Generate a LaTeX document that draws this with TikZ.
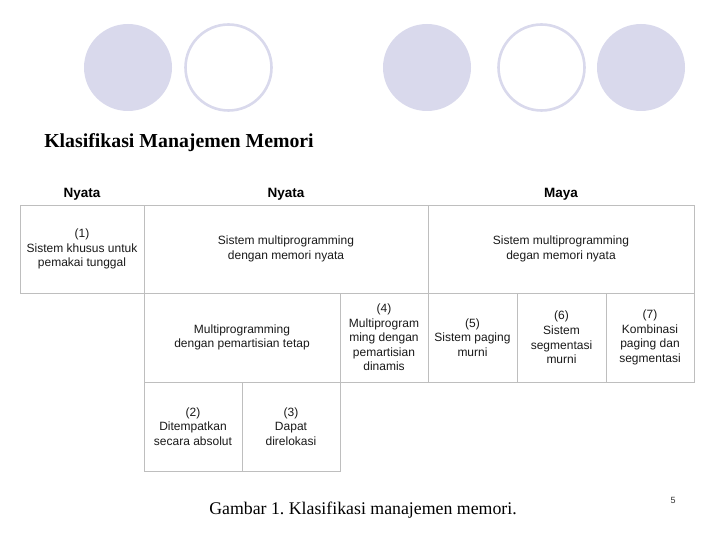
\documentclass[tikz,border=0pt]{standalone}
\usepackage{fontspec}
\setmainfont{Liberation Serif}
\setsansfont{Liberation Sans}
\usetikzlibrary{shapes.geometric}
\definecolor{lav}{RGB}{217,217,236}
\definecolor{gridc}{RGB}{190,190,190}
\begin{document}
\frenchspacing
\begin{tikzpicture}[x=1pt,y=-1pt,
  cell/.style={draw=gridc,line width=0.9pt,rectangle,inner sep=0pt,align=center,
    font=\sffamily\fontsize{12}{14.6}\selectfont,text=black!90},
  hdr/.style={font=\sffamily\bfseries\fontsize{13.5}{16}\selectfont,anchor=base},
  dotf/.style={fill=lav,draw=none},
  doto/.style={draw=lav,line width=2.6pt,fill=white}]
\useasboundingbox (0,0) rectangle (720,540);
% decorative circles
\node[dotf,ellipse,minimum width=88pt,minimum height=87pt] (d1) at (128,67.5) {};
\node[doto,ellipse,minimum width=86pt,minimum height=86pt] (d2) at (228.5,67.5) {};
\node[dotf,ellipse,minimum width=88pt,minimum height=87pt] (d3) at (427,67.5) {};
\node[doto,ellipse,minimum width=86pt,minimum height=86pt] (d4) at (541.5,67.5) {};
\node[dotf,ellipse,minimum width=88pt,minimum height=87pt] (d5) at (641,67.5) {};
% title
\node[font=\bfseries\fontsize{19.8}{22}\selectfont,anchor=base] (title) at (179,148) {Klasifikasi Manajemen Memori};
% headers
\node[hdr] (h1) at (82,197) {Nyata};
\node[hdr] (h2) at (286,197) {Nyata};
\node[hdr] (h3) at (561,197) {Maya};
% row 1
\node[cell,minimum width=124pt,minimum height=88pt] (c1) at (82,249) {(1)\\Sistem khusus untuk\\pemakai tunggal};
\node[cell,minimum width=284pt,minimum height=88pt] (c2) at (286,249) {Sistem multiprogramming\\dengan memori nyata};
\node[cell,minimum width=266pt,minimum height=88pt] (c3) at (561,249) {Sistem multiprogramming\\degan memori nyata};
% row 2
\node[cell,minimum width=196pt,minimum height=89pt] (c4) at (242,337.5) {Multiprogramming\\dengan pemartisian tetap};
\node[cell,minimum width=88pt,minimum height=89pt] (c5) at (384,337.5) {(4)\\Multiprogram\\ming dengan\\pemartisian\\dinamis};
\node[cell,minimum width=89pt,minimum height=89pt] (c6) at (472.5,337.5) {(5)\\Sistem paging\\murni};
\node[cell,minimum width=89pt,minimum height=89pt] (c7) at (561.5,337.5) {(6)\\Sistem\\segmentasi\\murni};
\node[cell,minimum width=88pt,minimum height=89pt] (c8) at (650,337.5) {(7)\\Kombinasi\\paging dan\\segmentasi};
% row 3
\node[cell,minimum width=98pt,minimum height=89pt] (c9) at (193,426.5) {(2)\\Ditempatkan\\secara absolut};
\node[cell,minimum width=98pt,minimum height=89pt] (c10) at (291,426.5) {(3)\\Dapat\\direlokasi};
% caption
\node[font=\fontsize{17.8}{20}\selectfont,anchor=base] (cap) at (363,514) {Gambar 1. Klasifikasi manajemen memori.};
\node[font=\sffamily\fontsize{9}{10}\selectfont,text=black!80] (pg) at (673,500) {5};
\end{tikzpicture}
\end{document}
